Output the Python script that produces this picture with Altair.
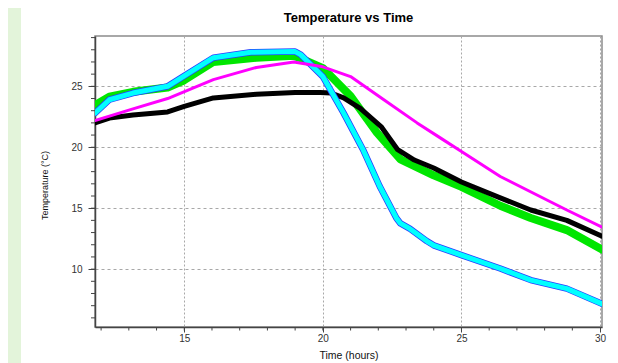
import altair as alt
import pandas as pd

# ---- data ----
title_text = "Temperature vs Time"
x_title = "Time (hours)"
y_title = "Temperature (°C)"

x_domain = [11.78, 30.07]
y_domain = [5.25, 29.13]
x_major = [15, 20, 25, 30]
y_major = [10, 15, 20, 25]
x_minor = list(range(12, 30))
y_minor = list(range(6, 30))

green_hours = [11.78, 12.3, 13.15, 14.4, 15.0, 16.05, 17.6, 18.95, 19.2, 20.0, 21.0, 21.95,
               22.8, 24.0, 25.0, 26.4, 27.5, 28.8, 30.07]
green_temp = [23.45, 24.15, 24.55, 24.9, 25.5, 27.0, 27.35, 27.5, 27.3, 26.5, 24.2, 21.2,
              19.0, 17.7, 16.75, 15.2, 14.2, 13.2, 11.6]

black_hours = [11.78, 12.3, 13.15, 14.4, 15.0, 16.05, 17.6, 19.0, 19.9, 20.3, 20.75, 21.35,
               22.1, 22.7, 23.3, 24.0, 25.0, 26.4, 27.5, 28.8, 30.07]
black_temp = [22.0, 22.4, 22.65, 22.9, 23.35, 24.05, 24.35, 24.5, 24.5, 24.45, 24.05, 23.2,
              21.7, 19.8, 18.95, 18.3, 17.15, 15.85, 14.85, 14.0, 12.7]

cyan_hours = [11.78, 12.3, 13.15, 14.4, 14.96, 16.05, 17.4, 19.0, 19.2, 20.0, 20.75, 21.45,
              22.05, 22.65, 22.8, 23.15, 23.75, 24.0, 25.0, 26.4, 27.5, 28.8, 30.07]
cyan_temp = [22.8, 23.9, 24.45, 25.0, 25.8, 27.35, 27.8, 27.85, 27.6, 25.8, 22.8, 19.8,
             16.8, 14.2, 13.75, 13.3, 12.3, 11.95, 11.15, 10.05, 9.1, 8.4, 7.15]

magenta_hours = [11.78, 13.15, 14.4, 16.05, 17.6, 18.95, 20.0, 21.0, 22.2, 23.4, 24.25,
                 25.0, 26.4, 28.1, 28.8, 30.07]
magenta_temp = [22.2, 23.15, 24.0, 25.55, 26.55, 27.0, 26.6, 25.8, 23.9, 22.0, 20.75,
                19.65, 17.6, 15.65, 14.85, 13.45]

FONT = "Liberation Sans"
W, H = 507, 291

xs = alt.Scale(domain=x_domain, nice=False, zero=False)
ys = alt.Scale(domain=y_domain, nice=False, zero=False)

x_axis = alt.Axis(values=x_major, title=x_title, titleFontSize=10.5, titleFontWeight="normal",
                  titleFont=FONT, titleColor="#111", titleX=W / 2, titleY=31,
                  titleBaseline="alphabetic", titleAlign="center",
                  labelFont=FONT, labelFontSize=10, labelColor="#333", labelPadding=1.5,
                  tickSize=5, tickColor="#444", domainColor="#444", domainWidth=1.5,
                  grid=True, gridColor="#a8a8a8", gridDash=[2, 2], gridWidth=1, labelFlush=False)
y_axis = alt.Axis(values=y_major, title=y_title, titleFontSize=9, titleFontWeight="normal",
                  titleFont=FONT, titleColor="#111", titleX=-51, titleY=149, titleAngle=-90,
                  titleBaseline="middle", titleAlign="center",
                  labelFont=FONT, labelFontSize=10, labelColor="#333", labelPadding=6,
                  tickSize=7, tickColor="#444", domainColor="#444", domainWidth=1.5,
                  grid=True, gridColor="#a8a8a8", gridDash=[3, 3], gridWidth=1)

X = alt.X("hours:Q", scale=xs, axis=x_axis, title=x_title)
Y = alt.Y("temp:Q", scale=ys, axis=y_axis, title=y_title)


def series(hours, temps, color, width):
    df = pd.DataFrame({"hours": hours, "temp": temps})
    return alt.Chart(df).mark_line(color=color, strokeWidth=width, strokeJoin="round",
                                   strokeCap="round", clip=True).encode(
        x=X, y=Y, order=alt.Order("hours:Q"),
    )


strip = alt.Chart(pd.DataFrame({"a": [0]})).mark_rect(color="#e3f4da").encode(
    x=alt.value(-87), x2=alt.value(-74), y=alt.value(-28), y2=alt.value(330)
)

ymin = alt.Chart(pd.DataFrame({"temp": y_minor})).mark_rule(color="#444", strokeWidth=1).encode(
    y=Y, x=alt.value(-4), x2=alt.value(0)
)
xmin = alt.Chart(pd.DataFrame({"hours": x_minor})).mark_rule(color="#444", strokeWidth=1).encode(
    x=X, y=alt.value(H), y2=alt.value(H + 3.5)
)

title = alt.Chart(pd.DataFrame({"label": [title_text]})).mark_text(
    font=FONT, fontSize=13, fontWeight="bold", color="#000", align="center", baseline="alphabetic"
).encode(text="label:N", x=alt.value(W / 2), y=alt.value(-14.5))

chart = alt.layer(
    strip, ymin, xmin,
    series(green_hours, green_temp, "#00e600", 8),
    series(black_hours, black_temp, "#000000", 5),
    series(cyan_hours, cyan_temp, "#2a3cff", 6.5),
    series(cyan_hours, cyan_temp, "#00ffff", 5),
    series(magenta_hours, magenta_temp, "#ff00ff", 3),
    title,
).properties(
    width=W, height=H,
    autosize=alt.AutoSizeParams(type="none"),
    padding={"left": 87, "top": 28, "right": 8, "bottom": 36},
    background="white",
).configure_view(stroke="#8c8c8c", strokeWidth=1.5)

chart.save("out.html", embed_options={"renderer": "svg", "actions": False})
